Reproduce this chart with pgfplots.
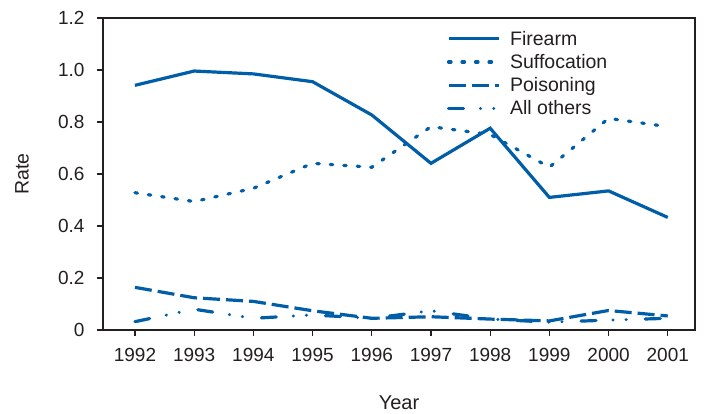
\documentclass[border=0pt]{standalone}
\usepackage{pgfplots}
\pgfplotsset{compat=1.18}
\usepackage{fontspec}
\setmainfont{Liberation Sans}
\definecolor{cblue}{RGB}{0,94,168}
\definecolor{txt}{RGB}{35,31,32}
\begin{document}
\begin{tikzpicture}
\begin{axis}[
  scale only axis, width=592pt, height=312pt,
  xmin=1991.46, xmax=2001.46, ymin=0, ymax=1.2,
  xtick={1992,1993,1994,1995,1996,1997,1998,1999,2000,2001},
  xticklabels={1992,1993,1994,1995,1996,1997,1998,1999,2000,2001},
  ytick={0,0.2,0.4,0.6,0.8,1.0,1.2},
  yticklabels={0,0.2,0.4,0.6,0.8,1.0,1.2},
  xtick pos=bottom, ytick pos=left,
  tick align=outside, major tick length=6pt,
  tick style={line width=1.2pt, color=txt},
  axis line style={line width=1.4pt, color=txt},
  every tick label/.append style={font=\fontsize{19}{22}\selectfont, text=txt},
  xticklabel shift=9pt, yticklabel shift=9pt,
  xlabel={Year}, ylabel={Rate},
  every axis x label/.style={at={(axis description cs:0.5,0)}, anchor=center, yshift=-73pt,
    font=\fontsize{20}{23}\selectfont, text=txt},
  every axis y label/.style={at={(axis description cs:0,0.5)}, xshift=-81pt, rotate=90, anchor=center,
    font=\fontsize{19.5}{23}\selectfont, text=txt},
  legend style={draw=none, fill=none, at={(axis description cs:0.5806,0.962)}, anchor=north west,
    font=\fontsize{19.5}{22}\selectfont, text=txt, inner sep=0pt, row sep=5.5pt,
    nodes={inner sep=1pt},
    /tikz/every odd column/.append style={column sep=9pt}},
  legend cell align=left,
  legend image code/.code={\draw[#1, line width=3.2pt] (0pt,0pt) -- (50pt,0pt);},
  every axis plot/.append style={color=cblue, line width=3.2pt},
]
\addplot[solid] coordinates {(1992,0.941) (1993,0.996) (1994,0.985) (1995,0.955) (1996,0.827) (1997,0.641) (1998,0.776) (1999,0.510) (2000,0.535) (2001,0.433)};
\addlegendentry{Firearm}
\addplot[line cap=round, dash pattern=on 2.5pt off 11pt] coordinates {(1992,0.528) (1993,0.494) (1994,0.545) (1995,0.641) (1996,0.626) (1997,0.782) (1998,0.752) (1999,0.626) (2000,0.814) (2001,0.782)};
\addlegendentry{Suffocation}
\addplot[dash pattern=on 17pt off 6pt] coordinates {(1992,0.164) (1993,0.124) (1994,0.110) (1995,0.074) (1996,0.045) (1997,0.051) (1998,0.042) (1999,0.035) (2000,0.075) (2001,0.054)};
\addlegendentry{Poisoning}
\addplot[line cap=round, dash pattern=on 15pt off 17pt on 0.1pt off 13pt on 0.1pt off 19pt] coordinates {(1992,0.032) (1993,0.080) (1994,0.045) (1995,0.058) (1996,0.045) (1997,0.074) (1998,0.042) (1999,0.030) (2000,0.038) (2001,0.045)};
\addlegendentry{All others}
\end{axis}
\pgfresetboundingbox
\path[use as bounding box] ([shift={(-103pt,-84pt)}]current axis.south west) rectangle ([shift={(9pt,18pt)}]current axis.north east);
\end{tikzpicture}
\end{document}
